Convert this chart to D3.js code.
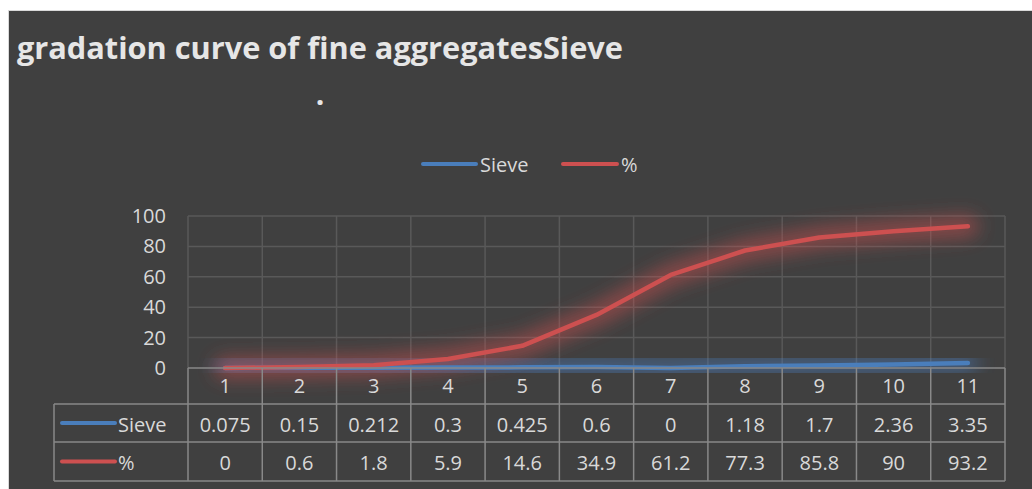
<!DOCTYPE html>
<html>
<head>
<meta charset="utf-8">
<script src="https://cdn.jsdelivr.net/npm/d3@7"></script>
<style>
  html, body { margin: 0; padding: 0; background: #ffffff; }
  svg { display: block; }
  text { font-family: "Open Sans", "Noto Sans", sans-serif; }
</style>
</head>
<body>
<svg id="chart" width="1032" height="489"></svg>
<script>
// Sieve analysis of fine aggregates
const categories = ["1", "2", "3", "4", "5", "6", "7", "8", "9", "10", "11"];
const sieveValues = [0.075, 0.15, 0.212, 0.3, 0.425, 0.6, 0, 1.18, 1.7, 2.36, 3.35];
const percentValues = [0, 0.6, 1.8, 5.9, 14.6, 34.9, 61.2, 77.3, 85.8, 90, 93.2];
const yTicks = [0, 20, 40, 60, 80, 100];
const seriesNames = ["Sieve", "%"];
const seriesColors = ["#4a7ebb", "#cd5050"];

const svg = d3.select("#chart");
const W = 1032, H = 489;
const textColor = "#d9d9d9";

// panel background
svg.append("rect")
  .attr("x", 8.5).attr("y", 10.5)
  .attr("width", W - 8).attr("height", H - 10)
  .attr("fill", "#404040")
  .attr("stroke", "#d9d9d9").attr("stroke-width", 1);

// glow filter for the lines
const defs = svg.append("defs");
const f = defs.append("filter").attr("id", "glow")
  .attr("x", "-20%").attr("y", "-80%").attr("width", "140%").attr("height", "260%");
f.append("feGaussianBlur").attr("stdDeviation", 9);

const plot = { left: 188, right: 1005, top: 216, bottom: 368 };

const x = d3.scaleBand().domain(categories).range([plot.left, plot.right]).padding(0);
const y = d3.scaleLinear().domain([0, 100]).range([plot.bottom, plot.top]);

// title
svg.append("text")
  .attr("x", 17).attr("y", 58.5)
  .attr("font-size", 29.5).attr("font-weight", "bold")
  .attr("fill", "#e6e6e6")
  .attr("textLength", 606).attr("lengthAdjust", "spacingAndGlyphs")
  .text("gradation curve of fine aggregatesSieve");

svg.append("text")
  .attr("x", 320).attr("y", 105)
  .attr("font-size", 30).attr("font-weight", "bold")
  .attr("text-anchor", "middle")
  .attr("fill", "#e6e6e6")
  .text(".");

// legend
const legend = svg.append("g");
const legendItems = [{ x: 423, w: 53 }, { x: 563, w: 54 }];
seriesNames.forEach((name, i) => {
  const it = legendItems[i];
  legend.append("line")
    .attr("x1", it.x).attr("x2", it.x + it.w)
    .attr("y1", 164).attr("y2", 164)
    .attr("stroke", seriesColors[i]).attr("stroke-width", 4).attr("stroke-linecap", "round");
  legend.append("text")
    .attr("x", it.x + it.w + 4).attr("y", 171.5)
    .attr("font-size", 20).attr("fill", textColor)
    .text(name);
});

// horizontal gridlines
svg.append("g")
  .selectAll("line")
  .data(yTicks.filter(d => d > 0))
  .join("line")
  .attr("x1", plot.left).attr("x2", plot.right)
  .attr("y1", d => y(d)).attr("y2", d => y(d))
  .attr("stroke", "#595959").attr("stroke-width", 1.5);

// vertical gridlines in the plot
const bounds = categories.map(c => x(c)).concat([plot.right]);
svg.append("g")
  .selectAll("line")
  .data(bounds)
  .join("line")
  .attr("x1", d => d).attr("x2", d => d)
  .attr("y1", plot.top).attr("y2", plot.bottom)
  .attr("stroke", "#595959").attr("stroke-width", 1.5);

// y axis labels
const yAxis = d3.axisLeft(y).tickValues(yTicks).tickSize(0).tickPadding(0);
const yg = svg.append("g").attr("transform", `translate(166,0)`).call(yAxis);
yg.select(".domain").remove();
yg.selectAll("text")
  .attr("font-size", 20).attr("fill", textColor)
  .attr("font-family", "\"Open Sans\", sans-serif");

// lines
const seriesData = [sieveValues, percentValues];
const line = d3.line()
  .x((d, i) => x(categories[i]) + x.bandwidth() / 2)
  .y(d => y(d));

seriesData.forEach((vals, i) => {
  svg.append("path")
    .datum(vals)
    .attr("d", line)
    .attr("fill", "none")
    .attr("stroke", seriesColors[i])
    .attr("stroke-width", 22)
    .attr("stroke-opacity", 0.5)
    .attr("stroke-linejoin", "round")
    .attr("stroke-linecap", "round")
    .attr("filter", "url(#glow)");
});
seriesData.forEach((vals, i) => {
  svg.append("path")
    .datum(vals)
    .attr("d", line)
    .attr("fill", "none")
    .attr("stroke", seriesColors[i])
    .attr("stroke-width", 4.5)
    .attr("stroke-linejoin", "round")
    .attr("stroke-linecap", "round");
});

// data table
const table = svg.append("g");
const rowY = [368, 404, 442, 481];
const tableLeft = 54;
const tableStroke = "#898989";

// horizontal rules
table.append("line")
  .attr("x1", plot.left).attr("x2", plot.right)
  .attr("y1", rowY[0]).attr("y2", rowY[0])
  .attr("stroke", tableStroke).attr("stroke-width", 1.5);
[rowY[1], rowY[2], rowY[3]].forEach(yy => {
  table.append("line")
    .attr("x1", tableLeft).attr("x2", plot.right)
    .attr("y1", yy).attr("y2", yy)
    .attr("stroke", tableStroke).attr("stroke-width", 1.5);
});
// vertical rules
bounds.forEach(bx => {
  table.append("line")
    .attr("x1", bx).attr("x2", bx)
    .attr("y1", rowY[0]).attr("y2", rowY[3])
    .attr("stroke", tableStroke).attr("stroke-width", 1.5);
});
table.append("line")
  .attr("x1", tableLeft).attr("x2", tableLeft)
  .attr("y1", rowY[1]).attr("y2", rowY[3])
  .attr("stroke", tableStroke).attr("stroke-width", 1.5);

// category header
table.selectAll("text.cat")
  .data(categories)
  .join("text")
  .attr("class", "cat")
  .attr("x", d => x(d) + x.bandwidth() / 2)
  .attr("y", (rowY[0] + rowY[1]) / 2 + 7)
  .attr("text-anchor", "middle")
  .attr("font-size", 20).attr("fill", textColor)
  .text(d => d);

// value rows
seriesData.forEach((vals, r) => {
  const cy = (rowY[r + 1] + rowY[r + 2]) / 2 + 8.5;
  table.append("g").selectAll("text")
    .data(vals)
    .join("text")
    .attr("x", (d, i) => x(categories[i]) + x.bandwidth() / 2)
    .attr("y", cy)
    .attr("text-anchor", "middle")
    .attr("font-size", 20).attr("fill", textColor)
    .text(d => String(d));
  // legend key inside the table
  table.append("line")
    .attr("x1", 62).attr("x2", 115)
    .attr("y1", cy - 8.5).attr("y2", cy - 8.5)
    .attr("stroke", seriesColors[r]).attr("stroke-width", 4).attr("stroke-linecap", "round");
  table.append("text")
    .attr("x", 118).attr("y", cy)
    .attr("font-size", 20).attr("fill", textColor)
    .text(seriesNames[r]);
});
</script>
</body>
</html>
